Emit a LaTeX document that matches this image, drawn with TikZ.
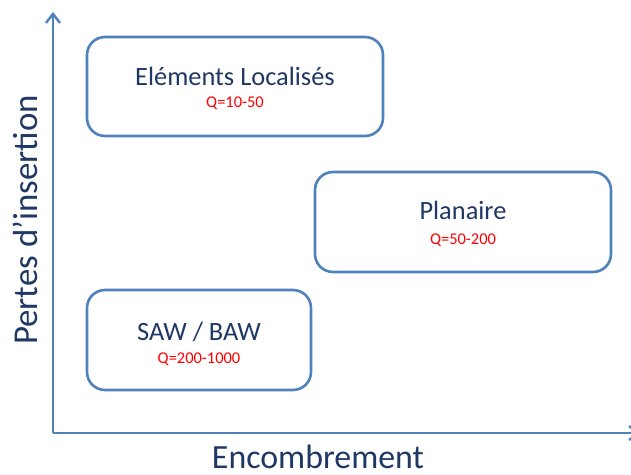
\documentclass[tikz,border=0pt]{standalone}
\usepackage{fontspec}
\setmainfont{Carlito}
\usetikzlibrary{arrows.meta}
\definecolor{axisblue}{RGB}{79,129,189}
\definecolor{textblue}{RGB}{31,56,100}
\definecolor{qred}{RGB}{255,0,0}
\tikzset{
  axisline/.style={draw=axisblue, line width=2.6bp, -{Straight Barb[length=9bp,width=14bp,line width=2.4bp]}},
  techbox/.style={draw=axisblue, line width=2.6bp, rounded corners=18bp, fill=white, inner sep=0pt},
  title/.style={text=textblue, font=\fontsize{26.5}{30}\selectfont, inner sep=0pt, anchor=base},
  qval/.style={text=qred, font=\fontsize{16.5}{19}\selectfont, inner sep=0pt, anchor=base},
  axislabel/.style={text=textblue, font=\fontsize{35}{40}\selectfont, inner sep=0pt, anchor=base}
}
\begin{document}
\begin{tikzpicture}[x=1bp,y=-1bp]
\useasboundingbox (0,0) rectangle (631,475);
\fill[white] (0,0) rectangle (631,475);
\coordinate (O) at (53,433);
\coordinate (ytop) at (53,12);
\coordinate (xend) at (640,433);
\draw[axisline] (O) -- (ytop);
\draw[axisline] (O) -- (xend);

\path[techbox] (87,37) rectangle (383,136);
\node[title] (t1) at (235,86) {Eléments Localisés};
\node[qval] (q1) at (235,108) {Q=10-50};

\path[techbox] (315,172) rectangle (611,272);
\node[title] (t2) at (463,220) {Planaire};
\node[qval] (q2) at (463,245) {Q=50-200};

\path[techbox] (87,290) rectangle (311,390);
\node[title] (t3) at (199,340) {SAW / BAW};
\node[qval] (q3) at (199,363) {Q=200-1000};

\node[axislabel, font=\fontsize{34}{38}\selectfont] (xl) at (318,468) {Encombrement};
\node[axislabel, rotate=90] (yl) at (37,220) {Pertes d’insertion};
\end{tikzpicture}
\end{document}
